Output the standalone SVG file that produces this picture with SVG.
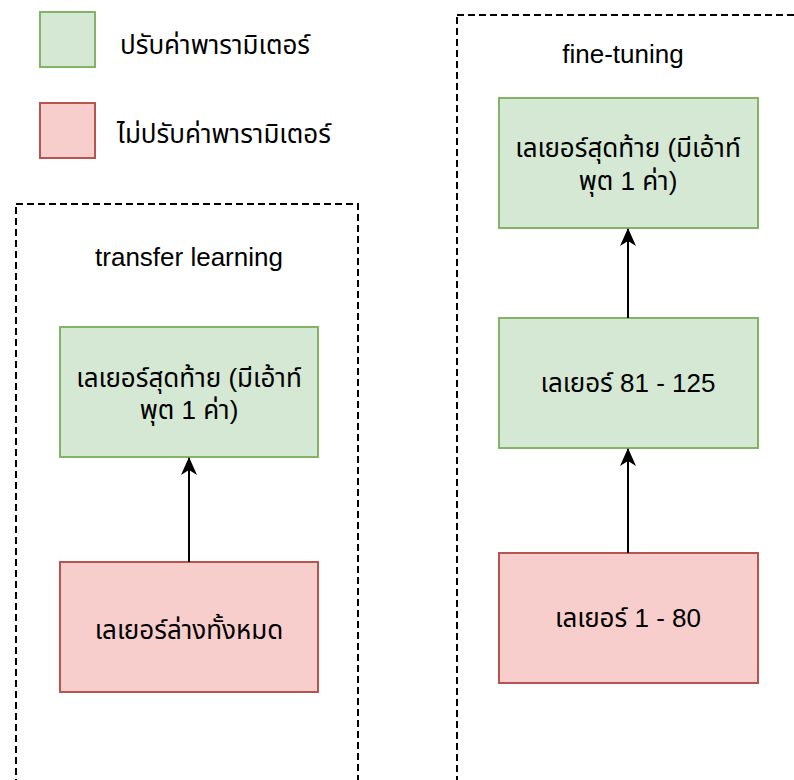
<svg xmlns="http://www.w3.org/2000/svg" width="794" height="780" viewBox="0 0 794 780">
<style>
text{font-family:"Liberation Sans","Noto Sans","Noto Sans Thai","DejaVu Sans",sans-serif;fill:#000;text-anchor:middle;dominant-baseline:central;font-size:26px}
.g{fill:#d5e8d4;stroke:#82b366;stroke-width:2}
.r{fill:#f8cecc;stroke:#b85450;stroke-width:2}
.c{fill:none;stroke:#000;stroke-width:2;stroke-dasharray:7 4}
.e{fill:none;stroke:#000;stroke-width:2}
.l{text-anchor:start}
</style>
<defs>
<marker id="ah" viewBox="0 0 18 18" refX="17" refY="9" markerWidth="18" markerHeight="18" markerUnits="userSpaceOnUse" orient="auto">
<path d="M0,1 L18,9 L0,17 L5,9 Z" fill="#000"/>
</marker>
</defs>
<g id="legend-green"><rect class="g" x="40" y="12" width="55" height="55"/><text class="l" x="120" y="45">ปรับค่าพารามิเตอร์</text></g>
<g id="legend-red"><rect class="r" x="40" y="103" width="55" height="55"/><text class="l" x="117" y="134">ไม่ปรับค่าพารามิเตอร์</text></g>
<g id="group-transfer"><rect class="c" x="16" y="204" width="342" height="620"/><text x="189" y="257">transfer learning</text></g>
<g id="group-finetune"><rect class="c" x="457" y="15" width="400" height="820"/><text x="623" y="54">fine-tuning</text></g>
<g id="tl-last"><rect class="g" x="60" y="327" width="258" height="130"/><text x="189" y="378">เลเยอร์สุดท้าย (มีเอ้าท์</text><text x="189" y="410">พุต 1 ค่า)</text></g>
<g id="tl-lower"><rect class="r" x="60" y="562" width="258" height="130"/><text x="189" y="630">เลเยอร์ล่างทั้งหมด</text></g>
<g id="ft-last"><rect class="g" x="499" y="98" width="259" height="130"/><text x="628" y="148">เลเยอร์สุดท้าย (มีเอ้าท์</text><text x="628" y="181">พุต 1 ค่า)</text></g>
<g id="ft-mid"><rect class="g" x="499" y="318" width="259" height="130"/><text x="628" y="383">เลเยอร์ 81 - 125</text></g>
<g id="ft-low"><rect class="r" x="499" y="553" width="259" height="130"/><text x="628" y="618">เลเยอร์ 1 - 80</text></g>
<g id="connectors">
<line class="e" x1="189" y1="562" x2="189" y2="458" marker-end="url(#ah)"/>
<line class="e" x1="628" y1="318" x2="628" y2="229" marker-end="url(#ah)"/>
<line class="e" x1="628" y1="553" x2="628" y2="449" marker-end="url(#ah)"/>
</g>
</svg>
